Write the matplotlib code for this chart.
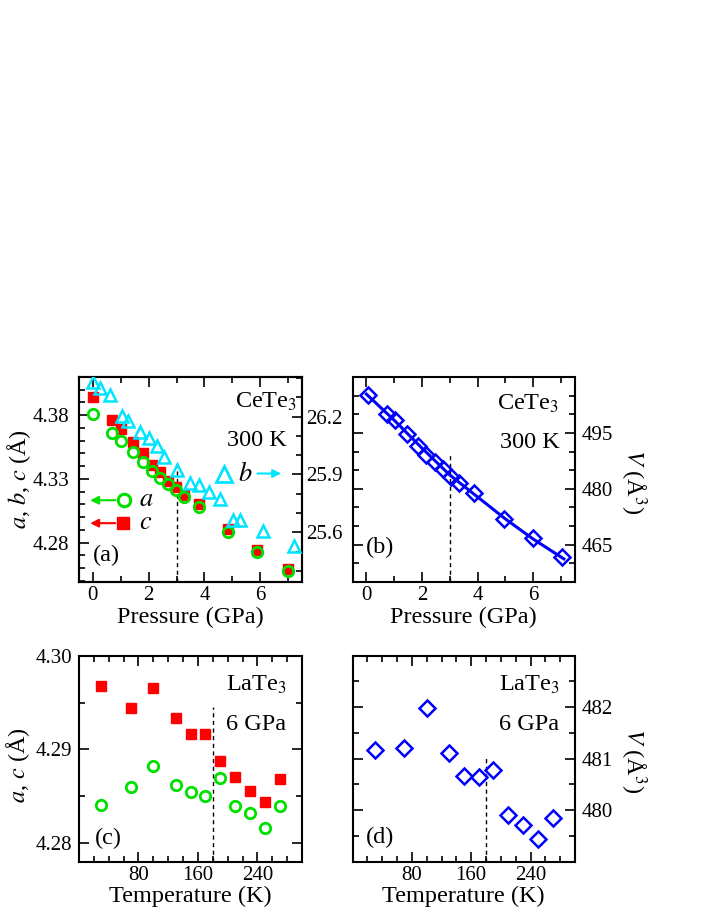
import matplotlib.pyplot as plt
from matplotlib.ticker import MultipleLocator

plt.rcParams['font.family'] = ['Liberation Serif', 'DejaVu Serif']
plt.rcParams['mathtext.fontset'] = 'stix'
plt.rcParams['font.size'] = 15
plt.rcParams['axes.linewidth'] = 1.5

GREEN = '#00e000'
RED = '#ff0000'
CYAN = '#00e5ff'
BLUE = '#0000ff'

# (a) CeTe3, 300 K: lattice parameters vs pressure
p_ac = [0.0, 0.68, 1.0, 1.45, 1.81, 2.12, 2.42, 2.7, 2.98, 3.27, 3.81, 4.85, 5.87, 6.99]
a_300 = [4.381, 4.366, 4.360, 4.351, 4.343, 4.336, 4.331, 4.326, 4.3216, 4.316, 4.308,
         4.2884, 4.2727, 4.2575]
c_300 = [4.394, 4.3766, 4.3695, 4.359, 4.350, 4.341, 4.335, 4.328, 4.3237, 4.3177, 4.310,
         4.291, 4.274, 4.259]
p_b = [0.0, 0.26, 0.6, 1.04, 1.27, 1.69, 2.01, 2.29, 2.56, 3.0, 3.48, 3.81, 4.17, 4.55,
       5.02, 5.29, 6.1, 7.23]
b_300 = [26.38, 26.348, 26.31, 26.205, 26.18, 26.118, 26.09, 26.05, 25.99, 25.925,
         25.857, 25.847, 25.81, 25.774, 25.666, 25.663, 25.605, 25.527]

# (b) CeTe3, 300 K: unit-cell volume vs pressure, plus the fitted curve
p_v = [0.05, 0.74, 1.02, 1.46, 1.85, 2.16, 2.45, 2.76, 3.05, 3.32, 3.86, 4.94, 6.0, 7.05]
v_300 = [505.2, 500.2, 498.4, 494.8, 491.6, 489.2, 487.2, 485.2, 483.2, 481.5, 478.8,
         472.0, 466.7, 461.6]
p_fit = [0.0, 1.0, 2.0, 3.0, 4.0, 5.0, 6.0, 7.1]
v_fit = [505.4, 498.4, 490.9, 483.7, 477.8, 471.9, 466.5, 461.2]

# (c), (d) LaTe3, 6 GPa: vs temperature
temp = [30, 70, 100, 130, 150, 170, 190, 210, 230, 250, 270]
a_6g = [4.2841, 4.2860, 4.2882, 4.2862, 4.2854, 4.2850, 4.2869, 4.2840, 4.2832, 4.2816, 4.2840]
c_6g = [4.2968, 4.2944, 4.2966, 4.2934, 4.2916, 4.2916, 4.2888, 4.2870, 4.2856, 4.2844, 4.2868]
v_6g = [481.16, 481.21, 481.98, 481.12, 480.67, 480.64, 480.78, 479.91, 479.72, 479.44, 479.85]

W, H = 706, 913
fig = plt.figure(figsize=(W / 100, H / 100), dpi=100)


def box(l, r, t, b):
    return [l / W, (H - b) / H, (r - l) / W, (b - t) / H]


def style(ax, right=True):
    ax.tick_params(which='both', direction='in', top=True, right=right, width=1.2)
    ax.tick_params(which='major', length=7)
    ax.tick_params(which='minor', length=4.5)


ax_a = fig.add_axes(box(79, 302, 377, 582))
ax_b = fig.add_axes(box(352.5, 575, 377, 582))
ax_c = fig.add_axes(box(79, 302, 655.7, 861.7))
ax_d = fig.add_axes(box(352.5, 575, 655.7, 861.7))

# ---- (a)
ax_a.plot(p_ac, c_300, 's', color=RED, ms=7.5, mec=RED, zorder=3)
ax_a.plot(p_ac, a_300, 'o', mfc='none', mec=GREEN, mew=2.0, ms=7.5, zorder=4)
ax_a.plot([3, 3], [4.249, 4.3423], 'k--', lw=1, dashes=(3, 2.5), zorder=1)
ax_a.set_xlim(-0.5, 7.5)
ax_a.set_ylim(4.249, 4.41)
ax_a.xaxis.set_major_locator(MultipleLocator(2))
ax_a.xaxis.set_minor_locator(MultipleLocator(1))
ax_a.set_yticks([4.28, 4.33, 4.38])
ax_a.yaxis.set_minor_locator(MultipleLocator(0.01))
style(ax_a, right=False)
ax_a.tick_params(axis='y', pad=7)
ax_a.tick_params(axis='x', pad=3)
ax_a.set_xlabel('Pressure (GPa)', fontsize=17.5, va='center')
ax_a.xaxis.set_label_coords(0.5, -0.175)
ax_a.set_ylabel('$a$, $b$, $c$ (Å)', fontsize=17.5, va='center')
ax_a.yaxis.set_label_coords(-0.27, 0.5)

ax_a2 = ax_a.twinx()
ax_a2.plot(p_b, b_300, '^', mfc='none', mec=CYAN, mew=1.8, ms=9, zorder=3)
ax_a2.set_ylim(25.342, 26.406)
ax_a2.set_yticks([25.6, 25.9, 26.2])
ax_a2.yaxis.set_minor_locator(MultipleLocator(0.1))
ax_a2.tick_params(which='both', direction='in', width=1.2, pad=3)
ax_a2.tick_params(which='major', length=7)
ax_a2.tick_params(which='minor', length=4.5)

# legend-like markers with arrows
ax_a.annotate('', xy=(-0.2, 4.3132), xytext=(0.9, 4.3132),
              arrowprops=dict(arrowstyle='-|>', color=GREEN, lw=1.5, mutation_scale=12))
ax_a.plot([1.12], [4.3132], 'o', mfc='none', mec=GREEN, mew=2.2, ms=9)
ax_a.text(1.65, 4.3132, '$a$', fontsize=19, va='center')
ax_a.annotate('', xy=(-0.2, 4.2952), xytext=(0.9, 4.2952),
              arrowprops=dict(arrowstyle='-|>', color=RED, lw=1.5, mutation_scale=12))
ax_a.plot([1.07], [4.2952], 's', color=RED, ms=9)
ax_a.text(1.65, 4.2952, '$c$', fontsize=19, va='center')
ax_a.plot([4.69], [4.3342], '^', mfc='none', mec=CYAN, mew=2.0, ms=11)
ax_a.text(5.2, 4.3342, '$b$', fontsize=19, va='center')
ax_a.annotate('', xy=(6.85, 4.3342), xytext=(5.8, 4.3342),
              arrowprops=dict(arrowstyle='-|>', color=CYAN, lw=1.5, mutation_scale=12))

ax_a.text(0.978, 0.88, 'CeTe$_3$', transform=ax_a.transAxes, ha='right', va='center', fontsize=17.5)
ax_a.text(0.93, 0.69, '300 K', transform=ax_a.transAxes, ha='right', va='center', fontsize=17.5)
ax_a.text(0.06, 0.13, '(a)', transform=ax_a.transAxes, ha='left', va='center', fontsize=17.5)

# ---- (b)
ax_b.plot(p_fit, v_fit, '-', color=BLUE, lw=2.2, zorder=2)
ax_b.plot(p_v, v_300, 'D', mfc='none', mec=BLUE, mew=1.8, ms=8, zorder=3)
ax_b.plot([3, 3], [455, 489.6], 'k--', lw=1, dashes=(3, 2.5), zorder=1)
ax_b.set_xlim(-0.5, 7.5)
ax_b.set_ylim(455, 510)
ax_b.xaxis.set_major_locator(MultipleLocator(2))
ax_b.xaxis.set_minor_locator(MultipleLocator(1))
ax_b.set_yticks([465, 480, 495])
ax_b.yaxis.set_minor_locator(MultipleLocator(5))
style(ax_b)
ax_b.tick_params(axis='y', labelleft=False, labelright=True, pad=5)
ax_b.tick_params(axis='x', pad=3)
ax_b.set_xlabel('Pressure (GPa)', fontsize=17.5, va='center')
ax_b.xaxis.set_label_coords(0.5, -0.175)
ax_b.yaxis.set_label_position('right')
ax_b.set_ylabel('$V$ (Å$^3$)', fontsize=17.5, rotation=270, va='center')
ax_b.yaxis.set_label_coords(1.26, 0.49)
ax_b.text(0.93, 0.87, 'CeTe$_3$', transform=ax_b.transAxes, ha='right', va='center', fontsize=17.5)
ax_b.text(0.93, 0.68, '300 K', transform=ax_b.transAxes, ha='right', va='center', fontsize=17.5)
ax_b.text(0.06, 0.17, '(b)', transform=ax_b.transAxes, ha='left', va='center', fontsize=17.5)

# ---- (c)
ax_c.plot(temp, c_6g, 's', color=RED, ms=7)
ax_c.plot(temp, a_6g, 'o', mfc='none', mec=GREEN, mew=2.0, ms=7.5)
ax_c.plot([180, 180], [4.278, 4.2945], 'k--', lw=1, dashes=(3, 2.5), zorder=1)
ax_c.set_xlim(0, 300)
ax_c.set_ylim(4.278, 4.30)
ax_c.set_xticks([80, 160, 240])
ax_c.xaxis.set_minor_locator(MultipleLocator(20))
ax_c.set_yticks([4.28, 4.29, 4.30])
ax_c.yaxis.set_minor_locator(MultipleLocator(0.005))
style(ax_c)
ax_c.tick_params(axis='y', pad=5)
ax_c.tick_params(axis='x', pad=3)
ax_c.set_xlabel('Temperature (K)', fontsize=17.5, va='center')
ax_c.xaxis.set_label_coords(0.5, -0.17)
ax_c.set_ylabel('$a$, $c$ (Å)', fontsize=17.5, va='center')
ax_c.yaxis.set_label_coords(-0.275, 0.47)
ax_c.text(0.93, 0.86, 'LaTe$_3$', transform=ax_c.transAxes, ha='right', va='center', fontsize=17.5)
ax_c.text(0.93, 0.665, '6 GPa', transform=ax_c.transAxes, ha='right', va='center', fontsize=17.5)
ax_c.text(0.07, 0.115, '(c)', transform=ax_c.transAxes, ha='left', va='center', fontsize=17.5)

# ---- (d)
ax_d.plot(temp, v_6g, 'D', mfc='none', mec=BLUE, mew=1.8, ms=8)
ax_d.plot([180, 180], [479, 481.03], 'k--', lw=1, dashes=(3, 2.5), zorder=1)
ax_d.set_xlim(0, 300)
ax_d.set_ylim(479, 483)
ax_d.set_xticks([80, 160, 240])
ax_d.xaxis.set_minor_locator(MultipleLocator(20))
ax_d.set_yticks([480, 481, 482])
ax_d.yaxis.set_minor_locator(MultipleLocator(0.5))
style(ax_d)
ax_d.tick_params(axis='y', labelleft=False, labelright=True, pad=5)
ax_d.tick_params(axis='x', pad=3)
ax_d.set_xlabel('Temperature (K)', fontsize=17.5, va='center')
ax_d.xaxis.set_label_coords(0.5, -0.17)
ax_d.yaxis.set_label_position('right')
ax_d.set_ylabel('$V$ (Å$^3$)', fontsize=17.5, rotation=270, va='center')
ax_d.yaxis.set_label_coords(1.26, 0.49)
ax_d.text(0.93, 0.86, 'LaTe$_3$', transform=ax_d.transAxes, ha='right', va='center', fontsize=17.5)
ax_d.text(0.93, 0.665, '6 GPa', transform=ax_d.transAxes, ha='right', va='center', fontsize=17.5)
ax_d.text(0.06, 0.12, '(d)', transform=ax_d.transAxes, ha='left', va='center', fontsize=17.5)

fig.savefig('out.png', dpi=100)
